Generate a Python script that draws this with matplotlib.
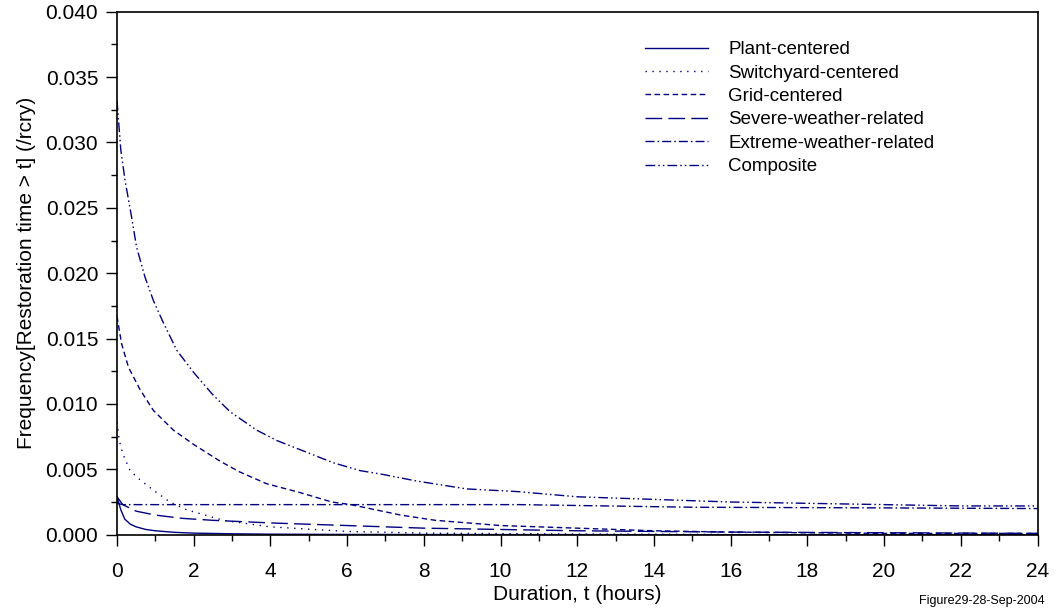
import matplotlib
matplotlib.use("Agg")
import matplotlib.pyplot as plt
from matplotlib.ticker import MultipleLocator, FormatStrFormatter

plt.rcParams['font.family'] = ['Liberation Sans', 'DejaVu Sans']

# Data
plant_t = [0, 0.1, 0.2, 0.35, 0.5, 0.75, 1, 1.5, 2, 3, 4, 6, 10, 16, 24]
plant_v = [0.0029, 0.0019, 0.0012, 0.0008, 0.0006, 0.0004, 0.0003, 0.00018, 0.00012, 0.00007, 0.00004, 0.00002, 0.00001, 0.0, 0.0]

switch_t = [0, 0.06, 0.15, 0.34, 0.6, 0.95, 1.38, 1.82, 2.77, 4, 6, 8, 12, 16, 24]
switch_v = [0.0086, 0.0072, 0.0062, 0.0049, 0.0042, 0.0034, 0.0025, 0.0019, 0.0011, 0.0006, 0.00025, 0.00012, 0.00005, 0.00002, 0.0]

grid_t = [0, 0.12, 0.3, 0.6, 0.95, 1.47, 2, 2.7, 3.2, 3.9, 4.8, 5.6, 6.1, 7.4, 8.3, 10, 12, 14, 16, 20, 24]
grid_v = [0.0167, 0.0146, 0.0128, 0.0111, 0.0095, 0.0080, 0.0069, 0.0056, 0.0048, 0.0039, 0.0032, 0.0025,
          0.0023, 0.0015, 0.0011, 0.0007, 0.0005, 0.0003, 0.0002, 0.0001, 0.0001]

severe_t = [0, 0.15, 0.5, 1, 1.7, 2.5, 4, 6, 8, 10, 12, 16, 20, 24]
severe_v = [0.0029, 0.0023, 0.0018, 0.0015, 0.00125, 0.0011, 0.0009, 0.0007, 0.0005, 0.0004, 0.0003, 0.0002, 0.00015, 0.0001]

extreme_t = [0, 0.15, 6, 10.5, 15, 20, 24]
extreme_v = [0.0024, 0.0023, 0.0023, 0.0023, 0.0021, 0.00205, 0.0020]

comp_t = [0, 0.1, 0.21, 0.38, 0.51, 0.73, 0.95, 1.21, 1.56, 2, 2.5, 2.95, 3.64, 4.17, 4.95, 5.64, 6.34,
          6.95, 7.82, 9.12, 10.43, 12, 14, 16, 18, 20, 22, 24]
comp_v = [0.0332, 0.0294, 0.0271, 0.0243, 0.0220, 0.0197, 0.0179, 0.0162, 0.0141, 0.0124, 0.0107, 0.0094,
          0.0080, 0.0072, 0.0063, 0.0055, 0.0049, 0.0046, 0.0041, 0.0035, 0.0033, 0.0029, 0.0027, 0.0025,
          0.0024, 0.0023, 0.0022, 0.0022]

labels = ["Plant-centered", "Switchyard-centered", "Grid-centered",
          "Severe-weather-related", "Extreme-weather-related", "Composite"]

color = "#000080"
W, H = 1057, 613

fig = plt.figure(figsize=(W / 100, H / 100), dpi=100)
left, right, top, bottom = 117, 1037.5, 11.7, 534.7
ax = fig.add_axes([left / W, 1 - bottom / H, (right - left) / W, (bottom - top) / H])

lw = 1.0
ax.plot(plant_t, plant_v, color=color, lw=lw, linestyle='-', label=labels[0])
ax.plot(switch_t, switch_v, color=color, lw=lw, linestyle=(0, (1, 4)), label=labels[1])
ax.plot(grid_t, grid_v, color=color, lw=lw, linestyle=(0, (4, 2.5)), label=labels[2])
ax.plot(severe_t, severe_v, color=color, lw=lw, linestyle=(0, (12, 4.5)), label=labels[3])
ax.plot(extreme_t, extreme_v, color=color, lw=lw, linestyle=(0, (6.5, 2.2, 1.1, 2.2)), label=labels[4])
ax.plot(comp_t, comp_v, color=color, lw=lw, linestyle=(0, (7, 2.2, 1.1, 2.2, 1.1, 2.2)), label=labels[5])

ax.set_xlim(0, 24)
ax.set_ylim(0, 0.040)
ax.xaxis.set_major_locator(MultipleLocator(2))
ax.xaxis.set_minor_locator(MultipleLocator(1))
ax.yaxis.set_major_locator(MultipleLocator(0.005))
ax.yaxis.set_minor_locator(MultipleLocator(0.0025))
ax.yaxis.set_major_formatter(FormatStrFormatter('%.3f'))
ax.tick_params(which='major', direction='out', length=8, width=1, labelsize=15)
ax.tick_params(axis='x', which='major', pad=11.5)
ax.tick_params(axis='y', which='major', pad=5.5)
ax.tick_params(which='minor', direction='out', length=4, width=1)
for s in ax.spines.values():
    s.set_linewidth(1.2)

ax.set_xlabel("Duration, t (hours)", fontsize=15, labelpad=3)
ax.set_ylabel("Frequency[Restoration time > t] (/rcry)", fontsize=15, labelpad=7)

leg = fig.legend(loc='upper left', bbox_to_anchor=(645 / W, 1 - 41 / H), frameon=False, fontsize=13.5,
                 handlelength=3.35, handletextpad=1.1, labelspacing=0.335, borderpad=0, borderaxespad=0)

fig.text(1045 / W, 1 - 601 / H, "Figure29-28-Sep-2004", fontsize=9, ha='right', va='center')

fig.savefig("out.png", dpi=100)
